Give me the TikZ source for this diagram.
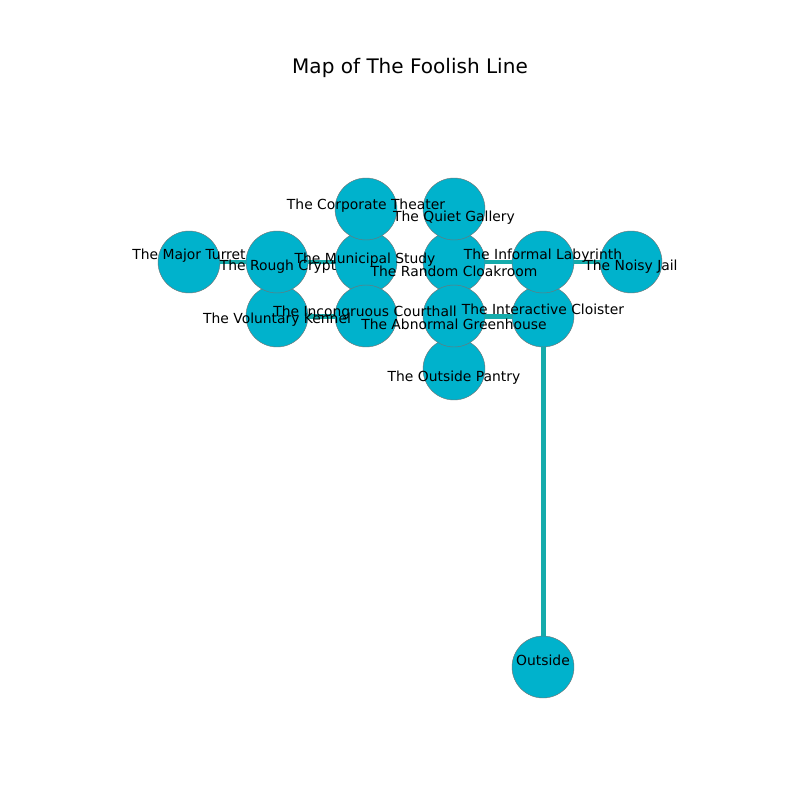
\documentclass[tikz,border=0pt]{standalone}
\usepackage{fontspec}
\setmainfont{DejaVu Sans}
\definecolor{roomfill}{HTML}{00B2CC}
\definecolor{passagecol}{HTML}{14ABAB}

\begin{document}
\begin{tikzpicture}[x=0.02cm, y=-0.02cm,
    room/.style={circle, fill=roomfill, draw=black!55, line width=0.25pt, minimum size=1.24cm, inner sep=0pt},
    lbl/.style={inner sep=0pt, font=\fontsize{7.9}{9.5}\selectfont},
    passage/.style={draw=passagecol, line width=0.1cm}]
    \useasboundingbox (0,0) rectangle (800,800);

    \node[lbl, font=\fontsize{11.4}{13}\selectfont] (title) at (410,68) {Map of The Foolish Line};

    % rooms, lower ones first
    \node[room] (outside) at (543,667) {};
    \node[room] (pantry) at (454,369) {};
    \node[room] (cloak) at (454,262) {};
    \node[room] (study) at (366,262) {};
    \node[room] (kennel) at (277,316) {};
    \node[room] (cloister) at (543,316) {};
    \node[room] (turret) at (189,262) {};
    \node[room] (crypt) at (277,262) {};
    \node[room] (theater) at (366,209) {};
    \node[room] (gallery) at (454,209) {};
    \node[room] (courthall) at (366,316) {};
    \node[room] (greenhouse) at (454,316) {};
    \node[room] (labyrinth) at (543,262) {};
    \node[room] (jail) at (631,262) {};

    \draw[passage] (turret) -- (crypt);
    \draw[passage] (crypt) -- (study);
    \draw[passage] (cloak) -- (labyrinth);
    \draw[passage] (labyrinth) -- (jail);
    \draw[passage] (kennel) -- (courthall);
    \draw[passage] (greenhouse) -- (cloister);
    \draw[passage] (cloister) -- (outside);

    % names
    \node[lbl] (l-theater) at (366,206) {The Corporate Theater};
    \node[lbl] (l-gallery) at (454,218) {The Quiet Gallery};
    \node[lbl] (l-turret) at (189,256) {The Major Turret};
    \node[lbl] (l-crypt) at (278,267) {The Rough Crypt};
    \node[lbl] (l-study) at (365,260) {The Municipal Study};
    \node[lbl] (l-cloak) at (454,271) {The Random Cloakroom};
    \node[lbl] (l-labyrinth) at (543,256) {The Informal Labyrinth};
    \node[lbl] (l-jail) at (631,267) {The Noisy Jail};
    \node[lbl] (l-kennel) at (277,320) {The Voluntary Kennel};
    \node[lbl] (l-courthall) at (365,313) {The Incongruous Courthall};
    \node[lbl] (l-greenhouse) at (454,324) {The Abnormal Greenhouse};
    \node[lbl] (l-cloister) at (543,309) {The Interactive Cloister};
    \node[lbl] (l-pantry) at (454,378) {The Outside Pantry};
    \node[lbl] (l-outside) at (543,660) {Outside};
\end{tikzpicture}
\end{document}
